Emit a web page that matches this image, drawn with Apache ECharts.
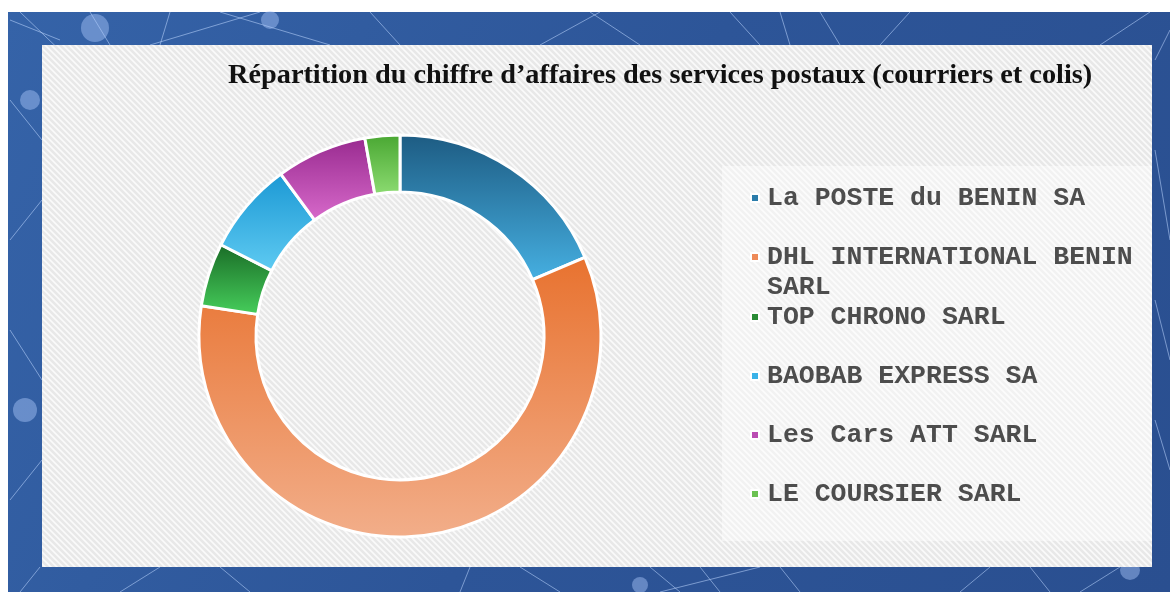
<!DOCTYPE html>
<html>
<head>
    <meta charset="UTF-8">
    <title>Répartition du chiffre d'affaires</title>
    <style>
        html, body { margin: 0; padding: 0; background: #fff; }
        #container { width: 1170px; height: 592px; }
    </style>
</head>
<body>
    <div id="container"></div>
    <script src="https://cdn.jsdelivr.net/npm/echarts@6/dist/echarts.min.js"></script>
    <script>
        var titleText = 'Répartition du chiffre d\u2019affaires des services postaux (courriers et colis)';
        var operators = ['La POSTE du BENIN SA', 'DHL INTERNATIONAL BENIN SARL', 'TOP CHRONO SARL',
                         'BAOBAB EXPRESS SA', 'Les Cars ATT SARL', 'LE COURSIER SARL'];
        var shares = [18.6, 58.8, 5.1, 7.4, 7.3, 2.8];
        // couleurs haut / bas de chaque part (dégradé vertical) + pastille de légende
        var topColors = ['#1d5b82', '#e8722f', '#196b26', '#1b98d4', '#982a8f', '#48a631'];
        var bottomColors = ['#46b0e2', '#f2ae8a', '#47cf5c', '#5fcbf2', '#d86acb', '#8ddc72'];
        var iconColors = ['#2b7dab', '#ee8a58', '#2a8c36', '#3ab2e8', '#bb4db3', '#6cc252'];
        var legendLines = [198, 257, 317, 376, 435, 494];

        // motif hachuré du panneau
        function hatch(bg, line) {
            var c = document.createElement('canvas');
            c.width = 6; c.height = 6;
            var ctx = c.getContext('2d');
            ctx.fillStyle = bg;
            ctx.fillRect(0, 0, 6, 6);
            ctx.strokeStyle = line;
            ctx.lineWidth = 1.6;
            ctx.beginPath();
            ctx.moveTo(-1, -1); ctx.lineTo(7, 7);
            ctx.moveTo(-4, 2); ctx.lineTo(4, 10);
            ctx.moveTo(2, -4); ctx.lineTo(10, 4);
            ctx.stroke();
            return { image: c, repeat: 'repeat' };
        }

        var pieData = operators.map(function (name, i) {
            return {
                name: name,
                value: shares[i],
                itemStyle: {
                    color: new echarts.graphic.LinearGradient(0, 0, 0, 1, [
                        { offset: 0, color: topColors[i] },
                        { offset: 1, color: bottomColors[i] }
                    ])
                }
            };
        });

        var legends = operators.map(function (name, i) {
            var isLong = name.length > 24;
            return {
                data: [{ name: name, itemStyle: { color: iconColors[i] } }],
                orient: 'vertical',
                left: 750,
                top: legendLines[i] - (isLong ? 45 : 15),
                padding: 0,
                itemWidth: 8,
                itemHeight: 8,
                itemGap: 0,
                selectedMode: false,
                icon: 'rect',
                formatter: function (n) {
                    return n.length > 24 ? '\nDHL INTERNATIONAL BENIN\nSARL' : n;
                },
                textStyle: {
                    fontFamily: 'Liberation Mono',
                    fontWeight: 'bold',
                    fontSize: 26.5,
                    lineHeight: 30,
                    color: '#4d4d4d',
                    padding: [0, 0, 0, 3]
                }
            };
        });

        // décor réseau sur le fond bleu
        var netLines = [
            [10, 20, 60, 40], [20, 12, 70, 60], [90, 12, 110, 45], [150, 45, 260, 12],
            [170, 12, 160, 45], [220, 12, 330, 45], [370, 12, 400, 45], [540, 45, 600, 12],
            [590, 12, 640, 45], [730, 12, 760, 45], [780, 12, 790, 45], [820, 12, 840, 45],
            [910, 12, 880, 45], [1100, 45, 1150, 12], [1155, 60, 1170, 30], [1155, 150, 1170, 240],
            [1155, 300, 1170, 360], [1155, 420, 1170, 470], [10, 100, 42, 140], [10, 240, 42, 200],
            [10, 330, 42, 380], [10, 500, 42, 460], [20, 592, 40, 567], [160, 567, 120, 592],
            [220, 567, 250, 592], [460, 592, 470, 567], [520, 567, 560, 592], [650, 567, 680, 592],
            [660, 592, 760, 567], [700, 567, 720, 592], [780, 567, 800, 592], [960, 592, 990, 567],
            [1030, 567, 1050, 592], [1080, 592, 1120, 567]
        ];
        var graphics = [
            { type: 'rect', z: -10, silent: true, shape: { x: 8, y: 12, width: 1162, height: 580 },
              style: { fill: new echarts.graphic.LinearGradient(0, 0, 1, 1, [
                  { offset: 0, color: '#3563a8' }, { offset: 0.5, color: '#2d5598' }, { offset: 1, color: '#2a4f90' }]) } }
        ];
        netLines.forEach(function (l) {
            graphics.push({ type: 'line', z: -9, silent: true,
                shape: { x1: l[0], y1: l[1], x2: l[2], y2: l[3] },
                style: { stroke: 'rgba(190,215,255,0.55)', lineWidth: 1 } });
        });
        [[95, 28, 14], [30, 100, 10], [25, 410, 12], [640, 585, 8], [1130, 570, 10], [270, 20, 9]].forEach(function (c) {
            graphics.push({ type: 'circle', z: -9, silent: true,
                shape: { cx: c[0], cy: c[1], r: c[2] },
                style: { fill: 'rgba(170,200,250,0.45)' } });
        });
        graphics.push({ type: 'rect', z: -5, silent: true,
            shape: { x: 42, y: 45, width: 1110, height: 522 },
            style: { fill: hatch('#e8e8e8', '#fafafa') } });
        graphics.push({ type: 'rect', z: -4, silent: true,
            shape: { x: 722, y: 166, width: 430, height: 375 },
            style: { fill: 'rgba(255,255,255,0.45)' } });

        var myChart = echarts.init(document.getElementById('container'));
        myChart.setOption({
            backgroundColor: '#ffffff',
            animation: false,
            graphic: graphics,
            title: {
                text: titleText,
                left: 228,
                top: 62,
                padding: 0,
                textStyle: {
                    fontFamily: 'Liberation Serif',
                    fontWeight: 'bold',
                    fontSize: 28.3,
                    color: '#111111'
                }
            },
            legend: legends,
            series: [
                {
                    type: 'pie',
                    center: [400, 336],
                    radius: [144, 201],
                    startAngle: 90,
                    clockwise: true,
                    label: { show: false },
                    labelLine: { show: false },
                    emphasis: { disabled: true },
                    itemStyle: {
                        borderColor: '#ffffff',
                        borderWidth: 3
                    },
                    data: pieData
                }
            ]
        });
    </script>
</body>
</html>
